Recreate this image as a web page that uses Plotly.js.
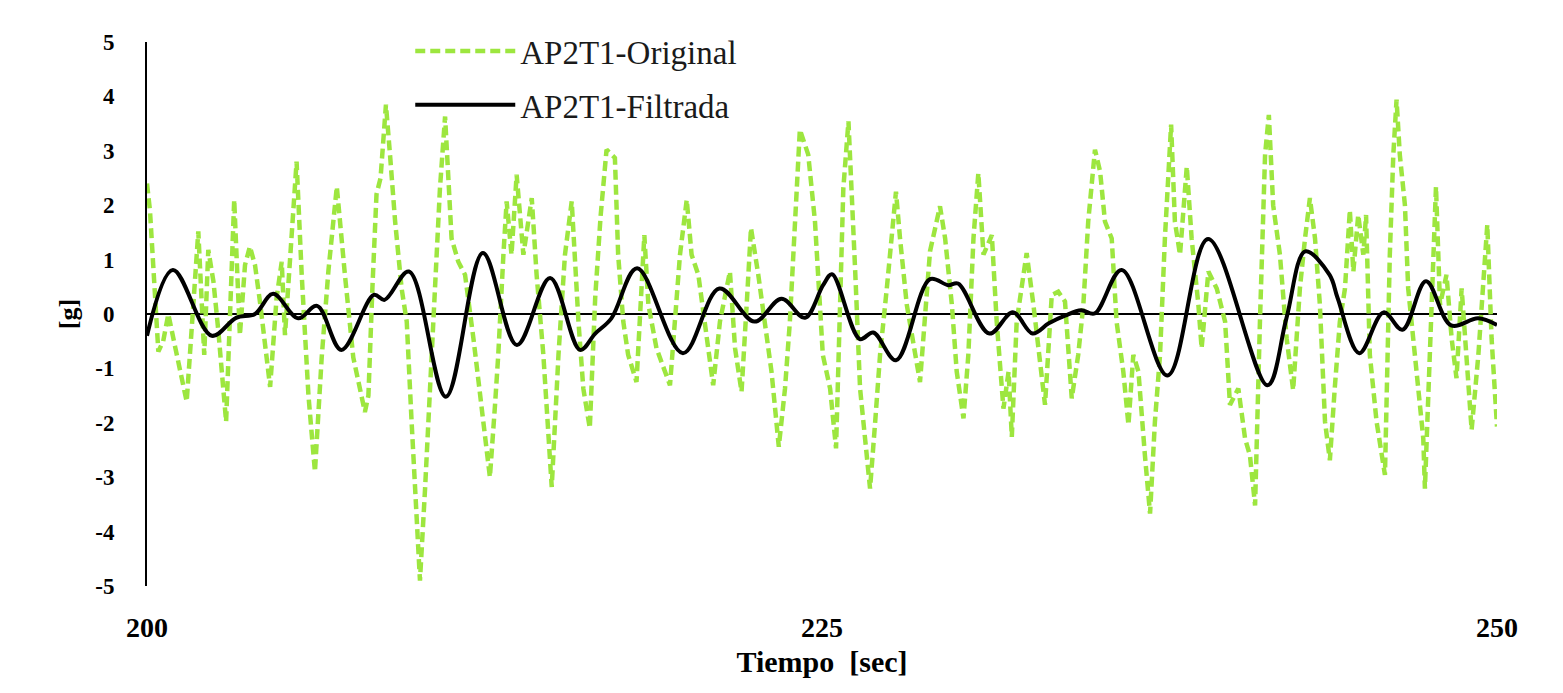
<!DOCTYPE html>
<html>
<head>
<meta charset="utf-8">
<script src="https://cdn.plot.ly/plotly-3.0.1.min.js"></script>
<style>html,body{margin:0;padding:0;background:#fff;}#chart{width:1563px;height:693px;}</style>
</head>
<body>
<div id="chart"></div>
<script>
// Original signal (time [sec], acceleration [g])
const tOrig = [200.0,200.11,200.23,200.42,200.6,200.79,201.04,201.22,201.47,201.72,201.9,202.12,202.27,202.46,202.64,202.93,203.07,203.23,203.44,203.63,203.81,204.0,204.19,204.56,204.8,204.99,205.11,205.36,205.54,205.73,205.98,206.22,206.47,206.72,207.03,207.33,207.64,208.07,208.2,208.35,208.5,208.65,208.85,209.0,209.19,209.43,209.62,209.8,209.99,210.11,210.3,210.48,210.67,210.85,211.04,211.16,211.28,211.53,211.78,212.09,212.4,212.7,212.89,213.01,213.2,213.32,213.5,213.69,213.94,214.25,214.43,214.68,214.99,215.24,215.48,215.73,215.98,216.16,216.4,216.6,216.8,217.02,217.33,217.45,217.64,217.82,218.13,218.32,218.42,218.57,218.87,219.37,219.55,219.74,219.99,220.17,220.42,220.66,220.97,221.22,221.59,221.78,222.02,222.21,222.37,222.64,222.89,223.13,223.4,223.63,223.81,224.0,224.18,224.49,224.74,225.03,225.3,225.52,225.67,225.79,225.98,226.1,226.23,226.41,226.6,226.78,226.97,227.15,227.4,227.74,227.89,228.14,228.63,228.82,229.0,229.37,229.56,229.81,229.99,230.24,230.42,230.61,230.79,230.98,231.29,231.47,231.72,231.91,232.03,232.21,232.58,232.83,233.26,233.51,233.75,234.0,234.25,234.49,234.68,234.86,235.11,235.3,235.48,235.73,235.91,236.16,236.35,236.53,236.72,236.96,237.15,237.33,237.52,237.7,237.93,238.07,238.26,238.51,238.69,238.94,239.06,239.31,239.62,239.93,240.11,240.42,240.67,240.85,241.04,241.22,241.41,241.55,241.71,241.96,242.21,242.45,242.7,242.89,243.07,243.26,243.44,243.63,243.81,243.99,244.18,244.37,244.55,244.68,244.86,245.05,245.15,245.29,245.54,245.85,246.03,246.16,246.28,246.4,246.59,246.71,246.9,247.08,247.27,247.33,247.52,247.74,247.89,248.13,248.32,248.5,248.69,248.87,249.06,249.31,249.64,249.8,250.0];
const gOrig = [2.4,1.9,0.9,-0.69,-0.5,0.0,-0.6,-1.0,-1.61,0.2,1.52,-0.75,1.18,0.6,-0.3,-1.98,0.2,2.1,-0.39,0.9,1.24,0.9,0.2,-1.34,0.3,0.96,-0.39,1.5,2.8,0.72,-1.5,-2.9,-0.8,0.8,2.34,0.72,-0.8,-1.8,-1.5,0.5,2.2,2.5,3.85,2.93,1.7,0.47,-0.14,-1.98,-3.82,-4.9,-3.2,-1.37,0.78,2.31,3.63,2.31,1.39,0.96,0.72,-0.45,-1.67,-3.0,-1.67,-0.75,1.09,2.07,1.09,2.56,1.09,2.13,0.72,-0.75,-3.18,-0.75,1.09,2.07,-0.14,-1.37,-2.1,0.3,1.8,3.02,2.87,1.09,-0.14,-0.75,-1.25,0.47,1.45,0.17,-0.63,-1.31,-0.14,1.09,2.1,1.09,0.72,-0.14,-1.31,-0.14,0.78,-0.63,-1.43,0.17,1.58,0.72,-0.14,-1.06,-2.44,-1.37,-0.14,1.7,3.39,2.93,1.7,-0.75,-1.37,-2.47,-0.14,2.31,3.54,2.31,0.78,-1.37,-2.29,-3.21,-1.98,-0.75,0.47,2.25,1.39,0.17,-1.25,-0.14,1.15,1.98,1.39,0.17,-1.06,-1.92,-0.75,1.39,2.59,1.09,1.45,-0.14,-1.74,-1.06,-2.26,-0.14,1.12,0.17,-1.67,0.35,0.41,0.23,-1.55,-0.75,0.17,1.7,3.02,2.62,1.7,1.39,-0.14,-1.06,-2.04,-0.75,-1.06,-2.6,-3.67,-1.98,-0.75,1.39,3.48,1.7,1.09,2.71,1.39,0.17,-0.63,0.78,0.47,-0.14,-1.67,-1.37,-2.29,-2.6,-3.52,-0.14,2.93,3.66,2.0,1.09,-0.45,-1.4,0.47,1.39,2.13,1.39,0.17,-1.98,-2.69,-1.37,-0.14,0.47,1.91,0.78,1.82,1.09,1.82,-0.75,-1.98,-2.96,1.09,2.93,3.94,2.93,2.0,0.47,-0.45,-1.37,-2.29,-3.21,-0.75,2.34,0.17,0.72,-0.45,-1.18,0.47,-0.75,-2.13,-0.75,1.64,-0.45,-2.07];

// Filtered signal
const tFilt = [200.0,200.96,202.4,203.3,204.0,204.67,205.6,206.3,207.2,208.4,208.8,209.7,211.07,212.44,213.7,214.93,216.04,216.6,217.2,218.15,219.85,221.2,222.5,223.5,224.37,225.04,225.37,226.4,226.9,227.74,229.0,229.67,230.04,231.2,232.07,232.8,233.4,234.0,234.6,235.1,236.1,237.8,239.3,241.5,242.2,242.9,243.8,244.1,244.9,245.8,246.5,247.37,248.3,249.3,250.0];
const gFilt = [-0.4,0.81,-0.4,-0.07,0.0,0.37,-0.08,0.15,-0.66,0.35,0.26,0.78,-1.52,1.12,-0.57,0.66,-0.66,-0.36,-0.08,0.84,-0.72,0.47,-0.14,0.28,-0.07,0.53,0.73,-0.46,-0.34,-0.85,0.64,0.53,0.56,-0.36,0.03,-0.36,-0.17,-0.03,0.07,0.01,0.81,-1.13,1.38,-1.31,-0.08,1.15,0.72,0.29,-0.72,0.03,-0.29,0.6,-0.21,-0.08,-0.2];

const xTicks = [200, 225, 250];
const yTicks = [-5,-4,-3,-2,-1,0,1,2,3,4,5];
const nameOrig = 'AP2T1-Original';
const nameFilt = 'AP2T1-Filtrada';

const serif = 'Liberation Serif';

const traces = [
  {x: tOrig, y: gOrig, type: 'scatter', mode: 'lines', name: nameOrig, legendgroup: 'a',
   line: {color: '#9de63f', width: 4.5, dash: '10px,5px'}},
  {x: tFilt, y: gFilt, type: 'scatter', mode: 'lines', name: nameFilt, legendgroup: 'b',
   line: {color: '#000000', width: 4, shape: 'spline', smoothing: 1}}
];

const layout = {
  width: 1563, height: 693,
  font: {family: serif, color: '#000'},
  margin: {l: 147, r: 66, t: 42, b: 107},
  paper_bgcolor: '#ffffff', plot_bgcolor: '#ffffff',
  showlegend: true,
  legend: {x: 0.195, y: 1.035, xanchor: 'left', yanchor: 'top', bgcolor: 'rgba(0,0,0,0)',
           font: {family: serif, size: 33, color: '#1a1a1a'}, tracegroupgap: 8, itemwidth: 100,
           traceorder: 'grouped'},
  xaxis: {range: [200, 250], tickvals: xTicks, ticktext: xTicks.map(String), showgrid: false,
          zeroline: false, showline: false, ticks: '', ticklabelstandoff: 22,
          tickfont: {family: serif, size: 28, color: '#000', weight: 'bold'},
          title: {text: '<b>Tiempo  [sec]</b>', font: {family: serif, size: 30, color: '#000'}, standoff: 8}},
  yaxis: {range: [-5, 5], tickvals: yTicks, ticktext: yTicks.map(String), showgrid: false, zeroline: true,
          zerolinecolor: '#000', zerolinewidth: 1.5, showline: true, linecolor: '#000', linewidth: 2,
          ticks: '', ticklabelstandoff: 26,
          tickfont: {family: serif, size: 23, color: '#000', weight: 'bold'},
          title: {text: '<b>[g]</b>', font: {family: serif, size: 26, color: '#000'}, standoff: 10}}
};

Plotly.newPlot('chart', traces, layout, {displayModeBar: false, staticPlot: true});
</script>
</body>
</html>
